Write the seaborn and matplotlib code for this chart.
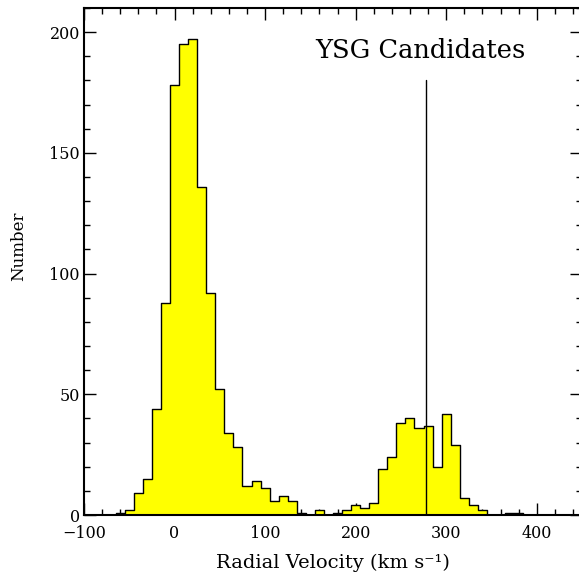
import numpy as np
import pandas as pd
import seaborn as sns
import matplotlib.pyplot as plt
from matplotlib.ticker import MultipleLocator

#%% data (10 km/s bins centred on multiples of 10)
velocity = [-60, -50, -40, -30, -20, -10, 0, 10, 20, 30, 40, 50, 60, 70, 80,
            90, 100, 110, 120, 130, 140, 150, 160, 170, 180, 190, 200, 210,
            220, 230, 240, 250, 260, 270, 280, 290, 300, 310, 320, 330, 340,
            350, 360, 370, 380]
number = [1, 2, 9, 15, 44, 88, 178, 195, 197, 136, 92, 52, 34, 28, 12,
          14, 11, 6, 8, 6, 1, 0, 2, 0, 1, 2, 4, 3,
          5, 19, 24, 38, 40, 36, 37, 20, 42, 29, 7, 4, 2,
          0, 0, 1, 1]
bin_width = 10
marker_velocity = 278
marker_top = 180
title_text = "YSG Candidates"

df = pd.DataFrame({"velocity": velocity, "number": number})
bin_range = (min(velocity) - bin_width / 2, max(velocity) + bin_width / 2)

#%% plot
sns.set_style("ticks")
plt.rcParams['font.family'] = ['DejaVu Serif']
for key in ['text.color', 'axes.labelcolor', 'xtick.color', 'ytick.color']:
    plt.rcParams[key] = 'black'

fig = plt.figure(figsize=(5.79, 5.74), dpi=100)
ax = fig.add_axes([84 / 579, 1 - 515 / 574, 498 / 579, 507 / 574])

sns.histplot(data=df, x="velocity", weights="number", binwidth=bin_width,
             binrange=bin_range, element="step", fill=True, color="yellow",
             alpha=1, edgecolor="black", linewidth=1, ax=ax)

ax.plot([marker_velocity, marker_velocity], [0, marker_top], color="black", lw=1)
ax.text(0.675, 0.917, title_text, transform=ax.transAxes, fontsize=18.5,
        ha="center", va="center")

ax.set_xlim(-100, 450)
ax.set_ylim(0, 210)
ax.xaxis.set_major_locator(MultipleLocator(100))
ax.xaxis.set_minor_locator(MultipleLocator(20))
ax.yaxis.set_major_locator(MultipleLocator(50))
ax.yaxis.set_minor_locator(MultipleLocator(10))
ax.tick_params(which="both", direction="in", top=True, right=True,
               labelsize=11.5, width=1, color="black")
ax.tick_params(which="major", length=8.6)
ax.tick_params(which="minor", length=4.3)
ax.tick_params(axis="x", which="major", pad=7)
ax.tick_params(axis="y", which="major", pad=3)
for s in ax.spines.values():
    s.set_linewidth(1.5)
    s.set_color("black")

ax.set_xlabel("Radial Velocity (km s\u207b\u00b9)", fontsize=14, va="center")
ax.set_ylabel("Number", fontsize=12)
ax.xaxis.set_label_coords(0.5, -(563 - 515) / 507)
ax.yaxis.set_label_coords(-0.114, (515 - 246) / 507)

fig.savefig("out.png", dpi=100)
